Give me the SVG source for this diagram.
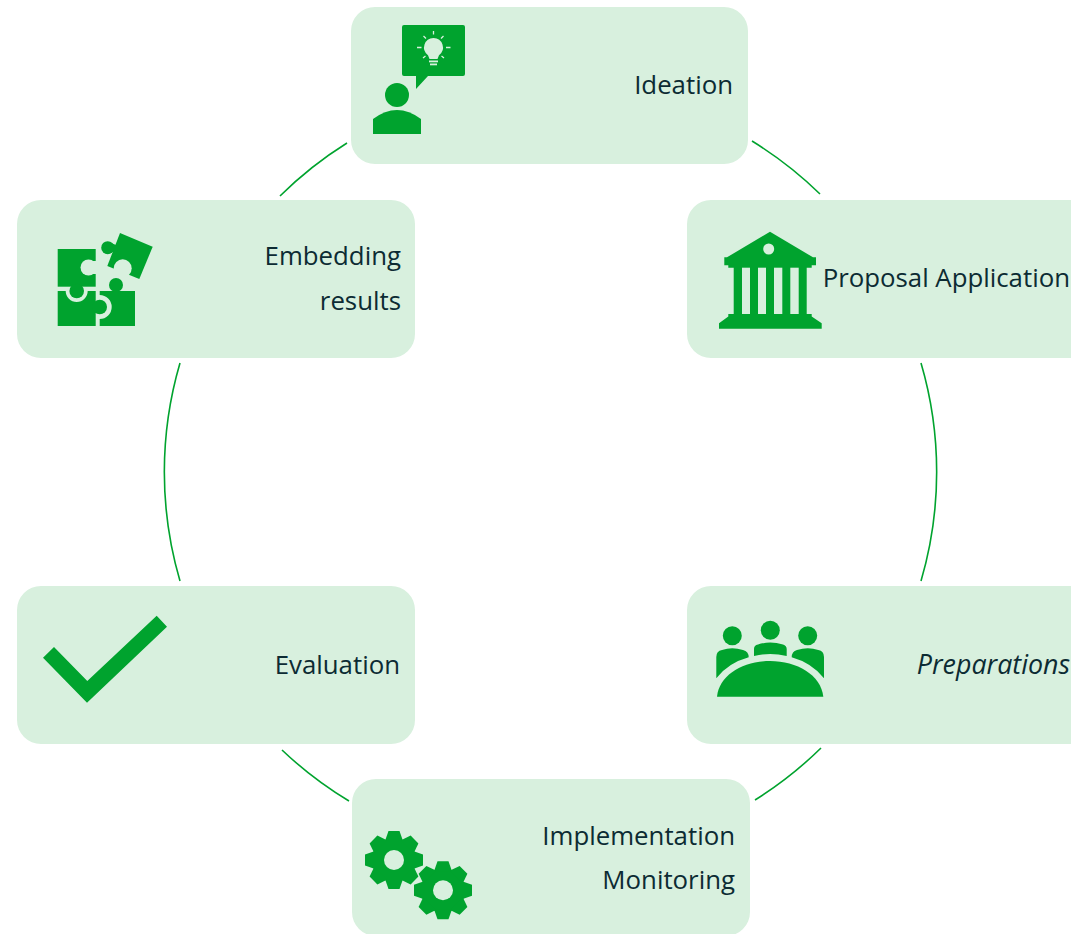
<svg xmlns="http://www.w3.org/2000/svg" width="1071" height="934" viewBox="0 0 1071 934">
<style>
.card{fill:#d8f0de}
.g{fill:#00a32e}
.l{fill:#d8f0de}
.t{font-family:"Open Sans","Noto Sans",sans-serif;font-size:25.8px;fill:#0c2b33;text-anchor:end}
.c{fill:none;stroke:#00a32e;stroke-width:1.6}
</style>
<defs>
<polygon id="tooth" points="-9,-19 -5.500,-29 5.500,-29 9,-19"/>
<g id="gear" class="g">
<circle r="22"/>
<use href="#tooth"/>
<use href="#tooth" transform="rotate(45)"/>
<use href="#tooth" transform="rotate(90)"/>
<use href="#tooth" transform="rotate(135)"/>
<use href="#tooth" transform="rotate(180)"/>
<use href="#tooth" transform="rotate(225)"/>
<use href="#tooth" transform="rotate(270)"/>
<use href="#tooth" transform="rotate(315)"/>
</g>
</defs>
<rect width="1071" height="934" fill="#ffffff"/>
<g id="connectors" class="c">
<path d="M347 143A387 387 0 0 0 280 196"/>
<path d="M752 141A387 387 0 0 1 820 194"/>
<path d="M921 363A387 387 0 0 1 921 581"/>
<path d="M180 363A387 387 0 0 0 180 581"/>
<path d="M282 750A387 387 0 0 0 349 801"/>
<path d="M821 748A387 387 0 0 1 755 800"/>
</g>
<g id="ideation">
<rect class="card" x="351" y="7" width="397" height="157" rx="24"/>
<path class="g" d="M404 25H463a2 2 0 0 1 2 2V74a2 2 0 0 1-2 2H428L416 89V76H404a2 2 0 0 1-2-2V27a2 2 0 0 1 2-2Z"/>
<circle class="g" cx="397" cy="95" r="12"/>
<path class="g" d="M373 134V119Q385 110 397 110T421 119V134Z"/>
<path class="l" d="M433.500 38a9.500 9.500 0 0 1 5.500 17.200L437.500 59H429.500L428 55.200A9.500 9.500 0 0 1 433.500 38Z"/>
<rect class="l" x="429" y="60.500" width="9" height="1.800"/>
<rect class="l" x="430" y="63.500" width="7" height="1.800"/>
<path d="M433.500 31v3.500M443.500 36l-2.500 2.500M423.500 36l2.500 2.500M417 47.500h4.500M446 47.500h4.500M423 58l2.500-2M444 58l-2.500-2" stroke="#d8f0de" stroke-width="1.300" fill="none"/>
<text class="t" x="733" y="94">Ideation</text>
</g>
<g id="proposal">
<path class="card" d="M1071 200H711a24 24 0 0 0-24 24V334a24 24 0 0 0 24 24H1071Z"/>
<path class="g" d="M770 231.700L813 257.300H816V265.300H811.700V267.700H806.700V314H811.700V316.500L821.700 323.300V328.700H719V323.300L728.300 316.500V314H733.700V267.700H728.300V265.300H724.300V257.300H727Z"/>
<rect class="l" x="742" y="267.700" width="8" height="46.300"/>
<rect class="l" x="758" y="267.700" width="8" height="46.300"/>
<rect class="l" x="774" y="267.700" width="8.300" height="46.300"/>
<rect class="l" x="790.300" y="267.700" width="8.400" height="46.300"/>
<circle class="l" cx="768.700" cy="249" r="5.500"/>
<text class="t" x="1070" y="287">Proposal Application</text>
</g>
<g id="preparations">
<path class="card" d="M1071 586H711a24 24 0 0 0-24 24V720a24 24 0 0 0 24 24H1071Z"/>
<circle class="g" cx="732.300" cy="635.700" r="9.500"/>
<circle class="g" cx="770.300" cy="630.300" r="9.500"/>
<circle class="g" cx="807.700" cy="635.700" r="9.500"/>
<path class="g" d="M717 696.700C719 675 743 661 770 661S821 675 823.300 696.700Z"/>
<path class="g" d="M716.300 678.300V657Q716.300 651 722 650Q732 646.500 743 650Q748.700 651.500 748.700 657.300Q728 663 716.300 678.300Z"/>
<path class="g" d="M754 656V649Q754 645 758 644.500Q770 640.500 783 644.500Q786.700 645.500 786.700 649V656Q770 652 754 656Z"/>
<path class="g" d="M824 678.300V657Q824 651 818.300 650Q808 646.500 797 650Q791.700 651.500 791.700 657.300Q812 663 824 678.300Z"/>
<text class="t" x="1070" y="674" font-style="italic" style="font-size:26.8px">Preparations</text>
</g>
<g id="implementation">
<rect class="card" x="352" y="779" width="398" height="157" rx="24"/>
<use href="#gear" x="394" y="860"/>
<circle class="l" cx="394" cy="860" r="10"/>
<use href="#gear" x="443" y="890.300"/>
<circle class="l" cx="443" cy="890.300" r="10"/>
<text class="t" x="735" y="845">Implementation</text>
<text class="t" x="735" y="889">Monitoring</text>
</g>
<g id="evaluation">
<rect class="card" x="17" y="586" width="398" height="158" rx="24"/>
<polygon class="g" points="54,647 87.300,681 156.700,615.700 167,626.700 87,702.700 43,657.700"/>
<text class="t" x="400" y="674">Evaluation</text>
</g>
<g id="embedding">
<rect class="card" x="17" y="200" width="398" height="158" rx="24"/>
<rect class="g" x="57.700" y="249" width="38" height="37.700"/>
<circle class="l" cx="88.500" cy="267.500" r="8"/>
<rect class="l" x="88.500" y="261" width="8" height="13"/>
<path class="g" d="M57.700 291H65.700A11 11 0 0 0 87.700 291H95.700V326H57.700Z"/>
<path class="g" d="M99.700 291H135V326H99.700V319A12 12 0 0 0 99.700 295Z"/>
<circle class="g" cx="116" cy="285" r="7"/>
<rect class="g" x="72" y="286" width="9.400" height="5"/>
<circle class="g" cx="76.700" cy="291" r="7.300"/>
<rect class="g" x="95" y="302.300" width="5" height="9.400"/>
<circle class="g" cx="99.700" cy="307" r="7.300"/>
<polygon class="g" points="120,233 152.700,246.700 139.300,279 107.300,266"/>
<circle class="g" cx="107.700" cy="247.700" r="6.500"/>
<rect class="g" x="108" y="244" width="10" height="8" transform="rotate(22 113 248)"/>
<circle class="l" cx="122.700" cy="268.300" r="9"/>
<text class="t" x="401" y="265">Embedding</text>
<text class="t" x="401" y="310">results</text>
</g>
</svg>
